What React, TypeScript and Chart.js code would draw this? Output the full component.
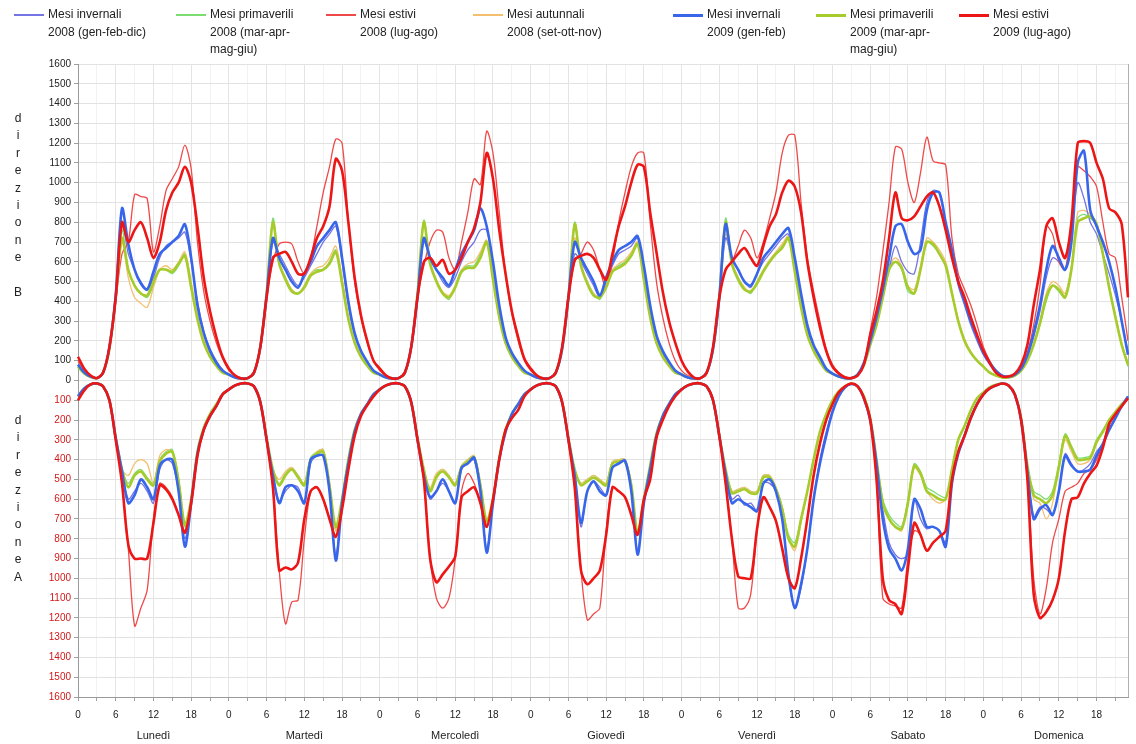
import React, { useEffect, useRef } from "react";
import { Chart, registerables } from "chart.js";

Chart.register(...registerables);

// ---------- categories / tick labels ----------
const days = ["Lunedì", "Martedì", "Mercoledì", "Giovedì", "Venerdì", "Sabato", "Domenica"];
const hoursPerDay = 24;
const hourTickLabels = [0, 6, 12, 18];
const yMin = -1600;
const yMax = 1600;
const yStep = 100;

const legendLabels: string[][] = [
  ["Mesi invernali", "2008 (gen-feb-dic)"],
  ["Mesi primaverili", "2008 (mar-apr-", "mag-giu)"],
  ["Mesi estivi", "2008 (lug-ago)"],
  ["Mesi autunnali", "2008 (set-ott-nov)"],
  ["Mesi invernali", "2009 (gen-feb)"],
  ["Mesi primaverili", "2009 (mar-apr-", "mag-giu)"],
  ["Mesi estivi", "2009 (lug-ago)"],
];

// ---------- direzione B (upper half), one row per day Mon..Sun, hours 0..23 ----------
const inv2008B = [
  [70,35,18,12,40,160,420,800,640,560,500,460,520,620,680,700,720,750,600,400,250,160,100,55],
  [30,15,10,12,40,170,430,700,640,580,520,480,520,580,640,700,740,780,600,380,230,150,95,50],
  [30,15,10,12,40,170,420,700,620,560,500,470,520,600,660,700,760,760,590,360,220,140,90,50],
  [30,15,10,12,40,160,410,640,600,540,480,420,500,580,640,660,680,720,560,360,220,140,90,50],
  [30,15,10,12,40,160,400,720,620,560,500,470,540,600,640,680,720,740,600,420,260,170,110,60],
  [35,20,12,12,30,80,180,300,420,560,680,600,550,540,700,900,960,950,780,640,480,380,280,200],
  [130,80,45,25,20,30,60,120,220,350,520,620,600,560,740,1000,920,800,740,640,540,430,300,140],
];
const prim2008B = [
  [70,35,18,12,40,160,420,760,560,480,440,420,480,560,560,540,580,640,480,320,200,130,80,45],
  [30,15,10,12,40,170,440,820,600,520,460,440,480,540,560,560,600,660,500,320,200,130,80,45],
  [30,15,10,12,40,170,440,810,600,500,440,410,480,560,580,580,640,700,520,330,200,130,80,45],
  [30,15,10,12,40,160,420,800,580,500,440,410,480,560,580,600,640,700,520,330,200,130,80,45],
  [30,15,10,12,40,160,420,820,600,520,470,440,500,560,600,640,680,720,560,380,240,150,100,55],
  [35,20,12,12,30,80,180,280,420,580,600,560,450,440,560,700,680,640,580,440,300,200,140,100],
  [70,40,25,15,15,25,50,100,180,280,400,480,450,420,560,820,840,820,790,640,470,320,180,70],
];
const est2008B = [
  [100,50,25,15,40,170,400,640,700,940,930,920,650,780,960,1020,1080,1190,1070,700,450,300,190,110],
  [50,25,15,15,40,170,420,600,690,700,690,600,540,620,780,950,1080,1220,1200,800,500,320,190,100],
  [50,25,15,15,40,170,420,580,700,760,750,620,560,700,850,1020,990,1260,1150,850,540,340,200,100],
  [50,25,15,15,40,170,420,600,640,700,660,560,470,600,800,950,1080,1150,1150,800,500,320,190,100],
  [50,25,15,15,40,170,420,560,600,680,760,720,620,700,820,950,1150,1240,1240,900,620,450,300,160],
  [80,40,20,15,30,80,250,420,650,900,1180,1170,1000,900,1050,1230,1110,1100,1090,720,540,460,380,280],
  [170,100,50,25,20,30,60,140,280,480,780,740,600,560,800,1080,1060,1030,980,800,640,620,420,200],
];
const aut2008B = [
  [70,35,18,12,40,160,420,700,520,420,390,370,470,560,580,560,600,650,500,330,210,140,85,45],
  [30,15,10,12,40,170,430,700,600,520,460,440,480,540,570,580,620,680,520,330,200,130,85,45],
  [30,15,10,12,40,170,430,720,600,510,450,430,480,560,590,600,650,710,530,330,200,130,85,45],
  [30,15,10,12,40,160,420,720,590,500,440,420,480,560,590,610,650,700,530,330,200,130,85,45],
  [30,15,10,12,40,160,420,740,600,520,470,450,500,560,610,650,690,730,560,380,240,150,100,55],
  [35,20,12,12,30,80,180,290,430,580,620,580,480,460,580,720,700,660,600,450,310,210,145,100],
  [70,40,25,15,15,25,50,100,190,300,440,500,480,440,580,850,860,840,800,650,480,330,190,80],
];
const inv2009B = [
  [80,40,20,12,40,170,430,870,690,560,490,460,550,640,670,700,730,790,620,380,240,150,90,50],
  [30,15,10,12,40,170,430,720,620,560,500,470,540,600,680,720,760,800,620,400,240,150,95,50],
  [30,15,10,12,40,170,420,720,620,560,520,480,560,640,700,760,870,780,600,380,220,140,90,50],
  [30,15,10,12,40,160,420,700,620,560,500,430,520,600,660,680,700,730,580,380,230,150,95,50],
  [30,15,10,12,40,160,420,790,620,560,500,480,540,620,660,700,740,770,620,440,280,180,120,60],
  [35,20,12,12,30,90,200,320,460,620,780,790,700,640,660,860,950,950,800,660,500,400,300,220],
  [140,90,50,25,20,30,60,130,240,380,560,680,620,560,700,1100,1160,860,780,700,600,470,300,130],
];
const prim2009B = [
  [70,35,18,12,40,160,420,720,560,480,440,430,500,560,560,550,590,630,470,310,190,120,75,40],
  [30,15,10,12,40,170,440,800,590,510,450,440,470,530,550,560,590,650,490,310,190,120,75,40],
  [30,15,10,12,40,170,440,800,590,500,440,420,470,550,570,570,620,700,510,320,190,120,75,40],
  [30,15,10,12,40,160,420,790,580,490,430,420,470,550,570,590,630,690,510,320,190,120,75,40],
  [30,15,10,12,40,160,420,800,590,510,460,450,490,550,600,640,670,720,550,370,230,150,95,50],
  [35,20,12,12,30,80,180,280,420,560,600,570,470,440,560,700,690,640,580,440,300,200,140,100],
  [70,40,25,15,15,25,50,100,180,290,420,480,460,420,560,800,820,830,790,640,470,320,180,80],
];
const est2009B = [
  [120,60,25,12,40,170,420,800,700,760,800,720,620,700,860,950,1000,1080,1000,780,520,350,220,120],
  [60,25,10,12,40,170,420,620,640,650,600,540,540,620,720,780,880,1120,1060,800,520,330,200,100],
  [60,25,10,12,40,170,420,600,620,580,610,540,560,620,700,770,900,1150,1020,760,540,350,220,110],
  [60,25,10,12,40,170,420,610,630,640,620,560,510,640,780,880,1000,1090,1080,850,650,450,300,190],
  [100,45,15,12,40,170,420,560,600,640,670,620,580,680,780,840,950,1010,980,850,600,420,270,150],
  [70,35,15,12,25,80,230,350,500,720,950,820,810,830,880,930,950,880,760,620,500,420,320,230],
  [150,90,40,20,20,35,80,180,380,560,780,820,700,620,800,1200,1210,1200,1100,1020,870,850,790,420],
];

// ---------- direzione A (lower half, magnitudes plotted downward) ----------
const inv2008A = [
  [80,40,20,15,30,100,290,460,600,560,520,560,620,450,400,420,560,800,620,370,250,180,130,70],
  [45,25,15,15,30,110,300,470,610,560,530,540,620,420,380,380,560,880,620,420,260,170,120,70],
  [45,25,15,15,30,110,300,480,600,560,520,560,620,450,420,400,560,850,620,400,260,170,120,70],
  [45,25,15,15,30,110,300,480,740,560,510,540,580,440,420,410,560,860,620,450,280,180,120,70],
  [45,25,15,15,30,100,280,460,600,580,630,620,660,520,520,560,700,1000,1150,1050,850,600,400,260],
  [150,80,35,18,30,90,200,420,650,820,880,900,880,600,700,750,740,760,820,520,370,270,180,110],
  [70,40,25,15,25,80,200,450,690,640,650,680,560,370,420,460,450,420,360,320,250,190,130,90],
];
const prim2008A = [
  [80,40,20,15,30,100,290,450,520,470,450,490,520,400,360,350,500,740,600,360,240,170,120,70],
  [45,25,15,15,30,110,290,450,520,470,440,480,520,390,360,350,520,760,600,400,250,170,120,70],
  [45,25,15,15,30,110,290,450,550,480,450,480,520,430,400,380,520,720,600,390,250,170,120,70],
  [45,25,15,15,30,110,290,450,520,500,480,500,520,410,400,400,520,780,600,430,270,180,120,70],
  [45,25,15,15,30,100,280,450,560,550,540,560,560,480,480,540,640,780,820,700,560,400,260,170],
  [100,55,30,15,30,80,190,400,600,680,720,740,600,420,460,540,560,580,590,450,300,230,150,90],
  [60,35,22,15,25,70,190,430,560,580,600,560,420,270,330,390,390,380,300,250,200,160,120,90],
];
const est2008A = [
  [100,50,20,15,30,100,300,520,850,1240,1150,1060,700,520,540,590,680,760,620,380,250,180,130,70],
  [45,25,15,15,30,110,300,540,960,1230,1120,1110,800,560,540,600,700,790,650,450,280,180,125,80],
  [45,25,15,15,30,110,300,500,900,1100,1150,1100,900,560,470,520,620,740,600,400,250,190,150,80],
  [45,25,15,15,30,110,300,540,960,1210,1180,1150,760,540,560,590,680,780,600,500,290,200,130,80],
  [45,25,15,15,30,100,280,520,800,1150,1150,1080,760,590,640,710,850,1000,1050,900,700,480,320,200],
  [120,60,30,15,30,90,200,500,1100,1130,1140,1150,900,760,780,860,820,790,760,500,360,280,190,120],
  [70,40,25,15,25,70,200,480,1000,1180,1050,820,700,560,540,520,470,450,400,320,220,170,130,90],
];
const aut2008A = [
  [80,40,20,15,30,100,290,450,480,420,400,420,520,380,350,360,500,720,600,360,240,170,120,70],
  [45,25,15,15,30,110,290,450,500,460,440,480,520,400,360,350,520,760,600,400,250,170,120,70],
  [45,25,15,15,30,110,290,450,540,470,450,480,520,430,400,380,520,720,600,390,250,170,120,70],
  [45,25,15,15,30,110,290,450,520,500,480,500,520,410,400,400,520,780,600,430,270,180,120,70],
  [45,25,15,15,30,100,280,450,560,550,540,560,560,480,480,540,640,800,860,720,560,400,260,170],
  [100,55,30,15,30,80,190,400,620,700,740,760,620,440,480,560,600,620,600,450,300,230,150,90],
  [60,35,22,15,25,70,190,430,600,620,700,620,440,300,360,420,420,400,320,260,200,160,120,90],
];
const inv2009A = [
  [80,40,20,15,30,100,290,460,620,580,500,540,600,430,400,400,560,840,620,370,250,180,130,70],
  [45,25,15,15,30,110,300,480,620,540,530,560,620,400,380,380,560,910,620,420,260,170,120,70],
  [45,25,15,15,30,110,300,480,590,560,500,560,620,440,420,390,560,870,620,400,260,170,120,70],
  [45,25,15,15,30,110,300,480,720,560,510,560,580,440,420,405,560,880,620,450,280,180,120,70],
  [45,25,15,15,30,100,280,470,620,600,620,640,660,520,500,560,700,980,1150,1030,850,600,420,280],
  [160,80,35,18,30,90,200,420,700,850,900,960,850,600,650,740,740,760,840,520,370,280,190,120],
  [70,40,25,15,25,70,200,460,700,650,630,680,560,380,430,460,460,450,380,320,250,190,130,80],
];
const prim2009A = [
  [80,40,20,15,30,100,290,450,540,480,460,500,530,410,370,360,510,730,600,360,240,170,120,70],
  [45,25,15,15,30,110,290,450,530,480,450,490,530,400,370,360,530,740,600,400,250,170,120,70],
  [45,25,15,15,30,110,290,450,560,490,460,490,530,440,410,390,530,710,600,390,250,170,120,70],
  [45,25,15,15,30,110,290,450,530,510,490,510,530,420,410,410,530,770,600,430,270,180,120,70],
  [45,25,15,15,30,100,280,450,570,560,550,570,570,490,490,550,650,800,840,700,560,400,260,170],
  [100,55,30,15,30,80,190,400,620,700,740,750,620,430,470,560,580,600,600,450,300,230,150,90],
  [60,35,22,15,25,70,190,430,580,600,620,580,440,280,340,400,400,390,310,260,200,160,120,90],
];
const est2009A = [
  [100,50,20,15,30,100,300,520,830,900,900,900,720,530,550,600,680,770,620,380,250,180,130,70],
  [45,25,15,15,30,110,300,540,960,945,955,920,700,560,540,600,700,790,650,450,280,180,125,80],
  [45,25,15,15,30,110,300,500,900,1020,980,940,890,590,560,540,620,740,600,400,250,190,150,80],
  [45,25,15,15,30,110,300,540,960,1030,1000,960,780,540,560,590,680,780,600,500,290,200,130,80],
  [45,25,15,15,30,100,280,520,800,990,1000,1000,750,590,640,710,850,1000,1050,900,700,480,320,200],
  [120,60,30,15,30,90,200,500,1000,1110,1130,1180,950,720,780,860,820,790,760,500,360,280,190,120],
  [70,40,25,15,25,70,200,500,1080,1200,1170,1110,1000,760,600,590,520,470,430,340,220,170,130,90],
];

// ---------- styles (kept apart from data) ----------
const seriesB = [inv2008B, prim2008B, est2008B, aut2008B, inv2009B, prim2009B, est2009B];
const seriesA = [inv2008A, prim2008A, est2008A, aut2008A, inv2009A, prim2009A, est2009A];
const seriesStyle = [
  { color: "#7474e4", width: 1.3, order: 4 },
  { color: "#7cdc72", width: 1.3, order: 6 },
  { color: "#ee4a4a", width: 1.3, order: 3 },
  { color: "#f4c070", width: 1.3, order: 5 },
  { color: "#3866ea", width: 2.6, order: 1 },
  { color: "#a6cc2c", width: 2.6, order: 2 },
  { color: "#ec1616", width: 2.6, order: 0 },
];
const legendX = [48, 210, 360, 507, 707, 850, 993];
const FONT = '"Liberation Sans", Arial, Helvetica, sans-serif';

const labels = days.flatMap((d) =>
  Array.from({ length: hoursPerDay }, (_, h) => `${d} ${h}`)
);

const dayLabelPlugin = {
  id: "dayLabels",
  afterDraw(chart: any) {
    const xs = chart.scales.x;
    const ctx = chart.ctx;
    ctx.save();
    ctx.font = `11px ${FONT}`;
    ctx.fillStyle = "#222";
    ctx.textAlign = "center";
    ctx.textBaseline = "middle";
    days.forEach((d, i) => {
      ctx.fillText(d, xs.getPixelForValue(i * hoursPerDay + 12), 736);
    });
    ctx.restore();
  },
};

function VerticalTitle({ letters, top, gapBeforeLast }: { letters: string[]; top: number; gapBeforeLast: number }) {
  const step = 17.4;
  return (
    <>
      {letters.map((l, i) => {
        const y = top + i * step + (i === letters.length - 1 ? gapBeforeLast : 0);
        return (
          <div
            key={i}
            style={{
              position: "absolute",
              left: 10,
              width: 16,
              top: y - 8,
              height: 16,
              lineHeight: "16px",
              textAlign: "center",
              fontFamily: FONT,
              fontSize: 12,
              color: "#222",
            }}
          >
            {l}
          </div>
        );
      })}
    </>
  );
}

export default function App() {
  const canvasRef = useRef<HTMLCanvasElement | null>(null);

  useEffect(() => {
    if (!canvasRef.current) return;
    const datasets: any[] = [];
    seriesB.forEach((rows, i) => {
      const st = seriesStyle[i];
      datasets.push({
        label: legendLabels[i].join(" ") + " B",
        data: rows.flat(),
        borderColor: st.color,
        backgroundColor: st.color,
        borderWidth: st.width,
        pointRadius: 0,
        tension: 0.3,
        fill: false,
        order: st.order,
      });
    });
    seriesA.forEach((rows, i) => {
      const st = seriesStyle[i];
      datasets.push({
        label: legendLabels[i].join(" ") + " A",
        data: rows.flat().map((v) => -v),
        borderColor: st.color,
        backgroundColor: st.color,
        borderWidth: st.width,
        pointRadius: 0,
        tension: 0.3,
        fill: false,
        order: st.order,
      });
    });

    const chart = new Chart(canvasRef.current, {
      type: "line",
      data: { labels, datasets },
      options: {
        animation: false,
        responsive: false,
        maintainAspectRatio: false,
        layout: { padding: { top: 64, right: 8, left: 0, bottom: 0 } },
        plugins: { legend: { display: false }, tooltip: { enabled: false } },
        scales: {
          x: {
            type: "category",
            offset: false,
            border: { color: "#9a9a9a" },
            grid: {
              color: (ctx: any) =>
                ctx.index === labels.length - 1
                  ? "#b0b0b0"
                  : ctx.index % 6 === 0
                  ? "#e4e4e4"
                  : ctx.index % 3 === 0
                  ? "#f2f2f2"
                  : "rgba(0,0,0,0)",
              tickColor: (ctx: any) => (ctx.index % 3 === 0 ? "#a0a0a0" : "rgba(0,0,0,0)"),
              tickLength: 4,
            },
            ticks: {
              autoSkip: false,
              maxRotation: 0,
              minRotation: 0,
              padding: 8,
              color: "#222",
              font: { size: 10, family: FONT },
              callback: (_v: any, index: number) =>
                hourTickLabels.includes(index % hoursPerDay) ? String(index % hoursPerDay) : "",
            },
            afterFit: (s: any) => {
              s.height = 47;
            },
          },
          y: {
            min: yMin,
            max: yMax,
            border: { color: "#9a9a9a" },
            grid: { color: "#e2e2e2", tickColor: "#a0a0a0", tickLength: 4 },
            ticks: {
              stepSize: yStep,
              autoSkip: false,
              padding: 3,
              font: { size: 10, family: FONT },
              color: (ctx: any) => (ctx.tick && ctx.tick.value < 0 ? "#d01818" : "#222"),
              callback: (v: any) => String(Math.abs(Number(v))),
            },
            afterFit: (s: any) => {
              s.width = 78;
            },
          },
        },
      },
      plugins: [dayLabelPlugin],
    });
    return () => chart.destroy();
  }, []);

  return (
    <div
      style={{
        position: "absolute",
        left: 0,
        top: 0,
        width: 1136,
        height: 744,
        background: "#fff",
        overflow: "hidden",
      }}
    >
      <canvas ref={canvasRef} width={1136} height={744} style={{ position: "absolute", left: 0, top: 0 }} />
      {legendLabels.map((lines, i) => (
        <div key={i} style={{ position: "absolute", left: legendX[i] - 34, top: 6 }}>
          <div
            style={{
              position: "absolute",
              left: 0,
              top: 8,
              width: 30,
              height: 0,
              borderTop: `${seriesStyle[i].width > 2 ? 3 : 2}px solid ${seriesStyle[i].color}`,
            }}
          />
          <div
            style={{
              position: "absolute",
              left: 34,
              top: 0,
              whiteSpace: "nowrap",
              fontFamily: FONT,
              fontSize: 12,
              lineHeight: "17.5px",
              color: "#222",
            }}
          >
            {lines.map((t, j) => (
              <div key={j}>{t}</div>
            ))}
          </div>
        </div>
      ))}
      <VerticalTitle letters={["d", "i", "r", "e", "z", "i", "o", "n", "e", "B"]} top={118} gapBeforeLast={17} />
      <VerticalTitle letters={["d", "i", "r", "e", "z", "i", "o", "n", "e", "A"]} top={420} gapBeforeLast={0} />
    </div>
  );
}
